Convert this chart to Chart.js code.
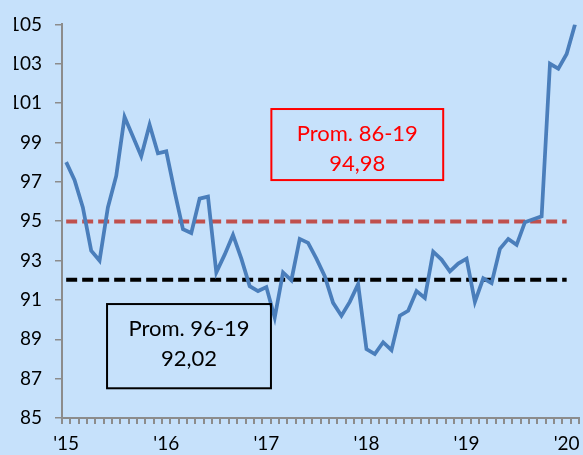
<!DOCTYPE html>
<html>
<head>
<meta charset="utf-8">
<script src="https://cdn.jsdelivr.net/npm/chart.js@4/dist/chart.umd.min.js"></script>
<style>
html,body{margin:0;padding:0;background:#c6e1fb;overflow:hidden;}
#wrap{width:583px;height:455px;}
canvas{display:block;}
</style>
</head>
<body>
<div id="wrap"><canvas id="c" width="583" height="455"></canvas></div>
<script>
// ---- data ----
const years = [2015, 2016, 2017, 2018, 2019, 2020];
const yearTickLabels = ["'15", "'16", "'17", "'18", "'19", "'20"];
const monthCount = 62; // Jan 2015 .. Feb 2020
const months = [];
years.forEach(y => { for (let m = 1; m <= 12; m++) { if (months.length < monthCount) months.push(y + '-' + String(m).padStart(2, '0')); } });

const indexValues = [
  98.0, 97.1, 95.7, 93.5, 93.0, 95.7, 97.3, 100.3, 99.3, 98.3, 99.9, 98.45,
  98.55, 96.5, 94.6, 94.4, 96.15, 96.25, 92.4, 93.3, 94.3, 93.1, 91.7, 91.45,
  91.65, 90.1, 92.4, 92.0, 94.1, 93.9, 93.1, 92.2, 90.85, 90.2, 90.9, 91.8,
  88.5, 88.25, 88.85, 88.45, 90.2, 90.45, 91.45, 91.1, 93.45, 93.05, 92.45, 92.85,
  93.1, 90.9, 92.1, 91.85, 93.6, 94.1, 93.8, 94.95, 95.1, 95.25, 103.0, 102.75,
  103.5, 105.0
];
const avg8619 = 94.98;
const avg9619 = 92.02;
const avgLastIndex = 60; // average lines drawn through Jan 2020
const text8619 = ['Prom. 86-19', '94,98'];
const text9619 = ['Prom. 96-19', '92,02'];
const yTicks = [85, 87, 89, 91, 93, 95, 97, 99, 101, 103, 105];

// ---- chart ----
const avgSeries = v => months.map((_, i) => i <= avgLastIndex ? v : null);
const FONT = 'Lato';
const BG = '#c6e1fb';

const boxes = [
  { x0: 24.6, x1: 45.2, y0: 97.09, y1: 100.7, color: '#ff0000', text: text8619 },
  { x0: 4.9, x1: 24.55, y0: 86.51, y1: 90.79, color: '#000000', text: text9619 }
];

const boxPlugin = {
  id: 'boxes',
  afterDatasetsDraw(chart) {
    const { ctx, scales: { x, y } } = chart;
    boxes.forEach(b => {
      const l = x.getPixelForValue(b.x0), r = x.getPixelForValue(b.x1);
      const t = y.getPixelForValue(b.y1), bt = y.getPixelForValue(b.y0);
      ctx.save();
      ctx.strokeStyle = b.color;
      ctx.lineWidth = 2;
      ctx.strokeRect(l, t, r - l, bt - t);
      ctx.fillStyle = b.color;
      ctx.font = '22px ' + FONT;
      ctx.textAlign = 'center';
      ctx.textBaseline = 'alphabetic';
      const cx = (l + r) / 2;
      ctx.fillText(b.text[0], cx, t + 32);
      ctx.fillText(b.text[1], cx, t + 62);
      ctx.restore();
    });
  },
  afterDraw(chart) {
    // the original image is cropped just left of the y tick labels
    const ctx = chart.ctx;
    ctx.save();
    ctx.fillStyle = BG;
    ctx.fillRect(0, 0, 14, 140);
    ctx.restore();
  }
};

new Chart(document.getElementById('c'), {
  type: 'line',
  data: {
    labels: months,
    datasets: [
      { data: avgSeries(avg8619), borderColor: '#c0504d', borderWidth: 4, borderDash: [11, 5], pointRadius: 0, fill: false, order: 2 },
      { data: avgSeries(avg9619), borderColor: '#000000', borderWidth: 4, borderDash: [11, 5], pointRadius: 0, fill: false, order: 2 },
      { data: indexValues, borderColor: '#4a7ebb', borderWidth: 3.75, pointRadius: 0, tension: 0, fill: false, order: 1 }
    ]
  },
  options: {
    responsive: false,
    devicePixelRatio: 1,
    animation: false,
    layout: { padding: { top: 21, right: 0, bottom: 0, left: 0 } },
    plugins: { legend: { display: false }, tooltip: { enabled: false } },
    scales: {
      x: {
        type: 'category',
        offset: true,
        ticks: {
          autoSkip: false, maxRotation: 0, minRotation: 0, padding: 8,
          color: '#000', font: { family: FONT, size: 19 },
          callback: (v, i) => (i % 12 === 0 ? yearTickLabels[i / 12] : '')
        },
        grid: { offset: true, drawOnChartArea: false, tickLength: 6, color: '#8c8c8c', lineWidth: 2 },
        border: { color: '#8c8c8c', width: 2 },
        afterFit(s) { s.height = 37; }
      },
      y: {
        min: 85, max: 105,
        afterBuildTicks(s) { s.ticks = yTicks.map(v => ({ value: v })); },
        ticks: { color: '#000', font: { family: FONT, size: 19 }, padding: 13 },
        grid: { drawOnChartArea: false, tickLength: 7, color: '#8c8c8c', lineWidth: 1.5 },
        border: { color: '#8c8c8c', width: 2 },
        afterFit(s) { s.width = 62; }
      }
    }
  },
  plugins: [boxPlugin]
});
</script>
</body>
</html>
